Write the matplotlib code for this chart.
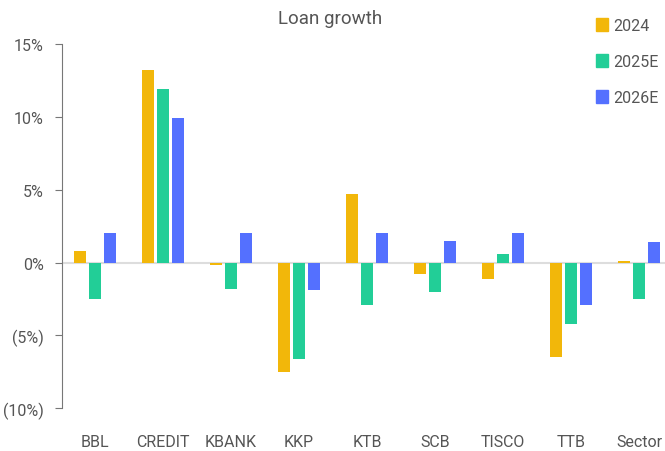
import numpy as np
import matplotlib.pyplot as plt
from matplotlib.patches import Patch

plt.rcParams['font.family'] = ['Roboto', 'DejaVu Sans']

banks = ['BBL', 'CREDIT', 'KBANK', 'KKP', 'KTB', 'SCB', 'TISCO', 'TTB', 'Sector']
g2024 = [0.8, 13.2, -0.2, -7.5, 4.7, -0.8, -1.1, -6.5, 0.1]
g2025 = [-2.5, 11.9, -1.8, -6.6, -2.9, -2.0, 0.6, -4.2, -2.5]
g2026 = [2.0, 9.9, 2.0, -1.9, 2.0, 1.5, 2.0, -2.9, 1.4]
series = ['2024', '2025E', '2026E']
colors = ['#F2B70A', '#22CE97', '#5470FF']

fig = plt.figure(figsize=(6.65, 4.52), dpi=100)
ax = fig.add_axes([0.093, 0.095, 0.907, 0.805])

x = np.arange(len(banks))
w = 0.18
for i, (vals, c) in enumerate(zip([g2024, g2025, g2026], colors)):
    ax.bar(x + (i - 1) * 0.22, vals, width=w, color=c, zorder=3)

ax.axhline(0, color='#dddddd', lw=1.5, zorder=2)
ax.set_xlim(-0.485, 8.38)
ax.set_ylim(-10, 15)
ax.set_yticks([-10, -5, 0, 5, 10, 15])
ax.set_yticklabels(['(10%)', '(5%)', '0%', '5%', '10%', '15%'])
ax.set_xticks(x)
ax.set_xticklabels(banks)

for s in ['top', 'right', 'bottom']:
    ax.spines[s].set_visible(False)
ax.spines['left'].set_color('#777777')
ax.tick_params(axis='y', colors='#777777', labelcolor='#555555', labelsize=11.5, length=5, pad=8)
ax.tick_params(axis='x', length=0, pad=19, labelcolor='#555555', labelsize=11.5)

fig.text(0.497, 0.958, 'Loan growth', ha='center', va='center', fontsize=13.5, color='#555555')

handles = [Patch(color=c, label=s) for c, s in zip(colors, series)]
fig.legend(handles=handles, loc='upper left', bbox_to_anchor=(0.875, 0.99), frameon=False,
           fontsize=11.5, labelcolor='#555555', handlelength=0.75, handleheight=0.9,
           handletextpad=0.3, labelspacing=1.3)

fig.savefig('out.png', dpi=100)
